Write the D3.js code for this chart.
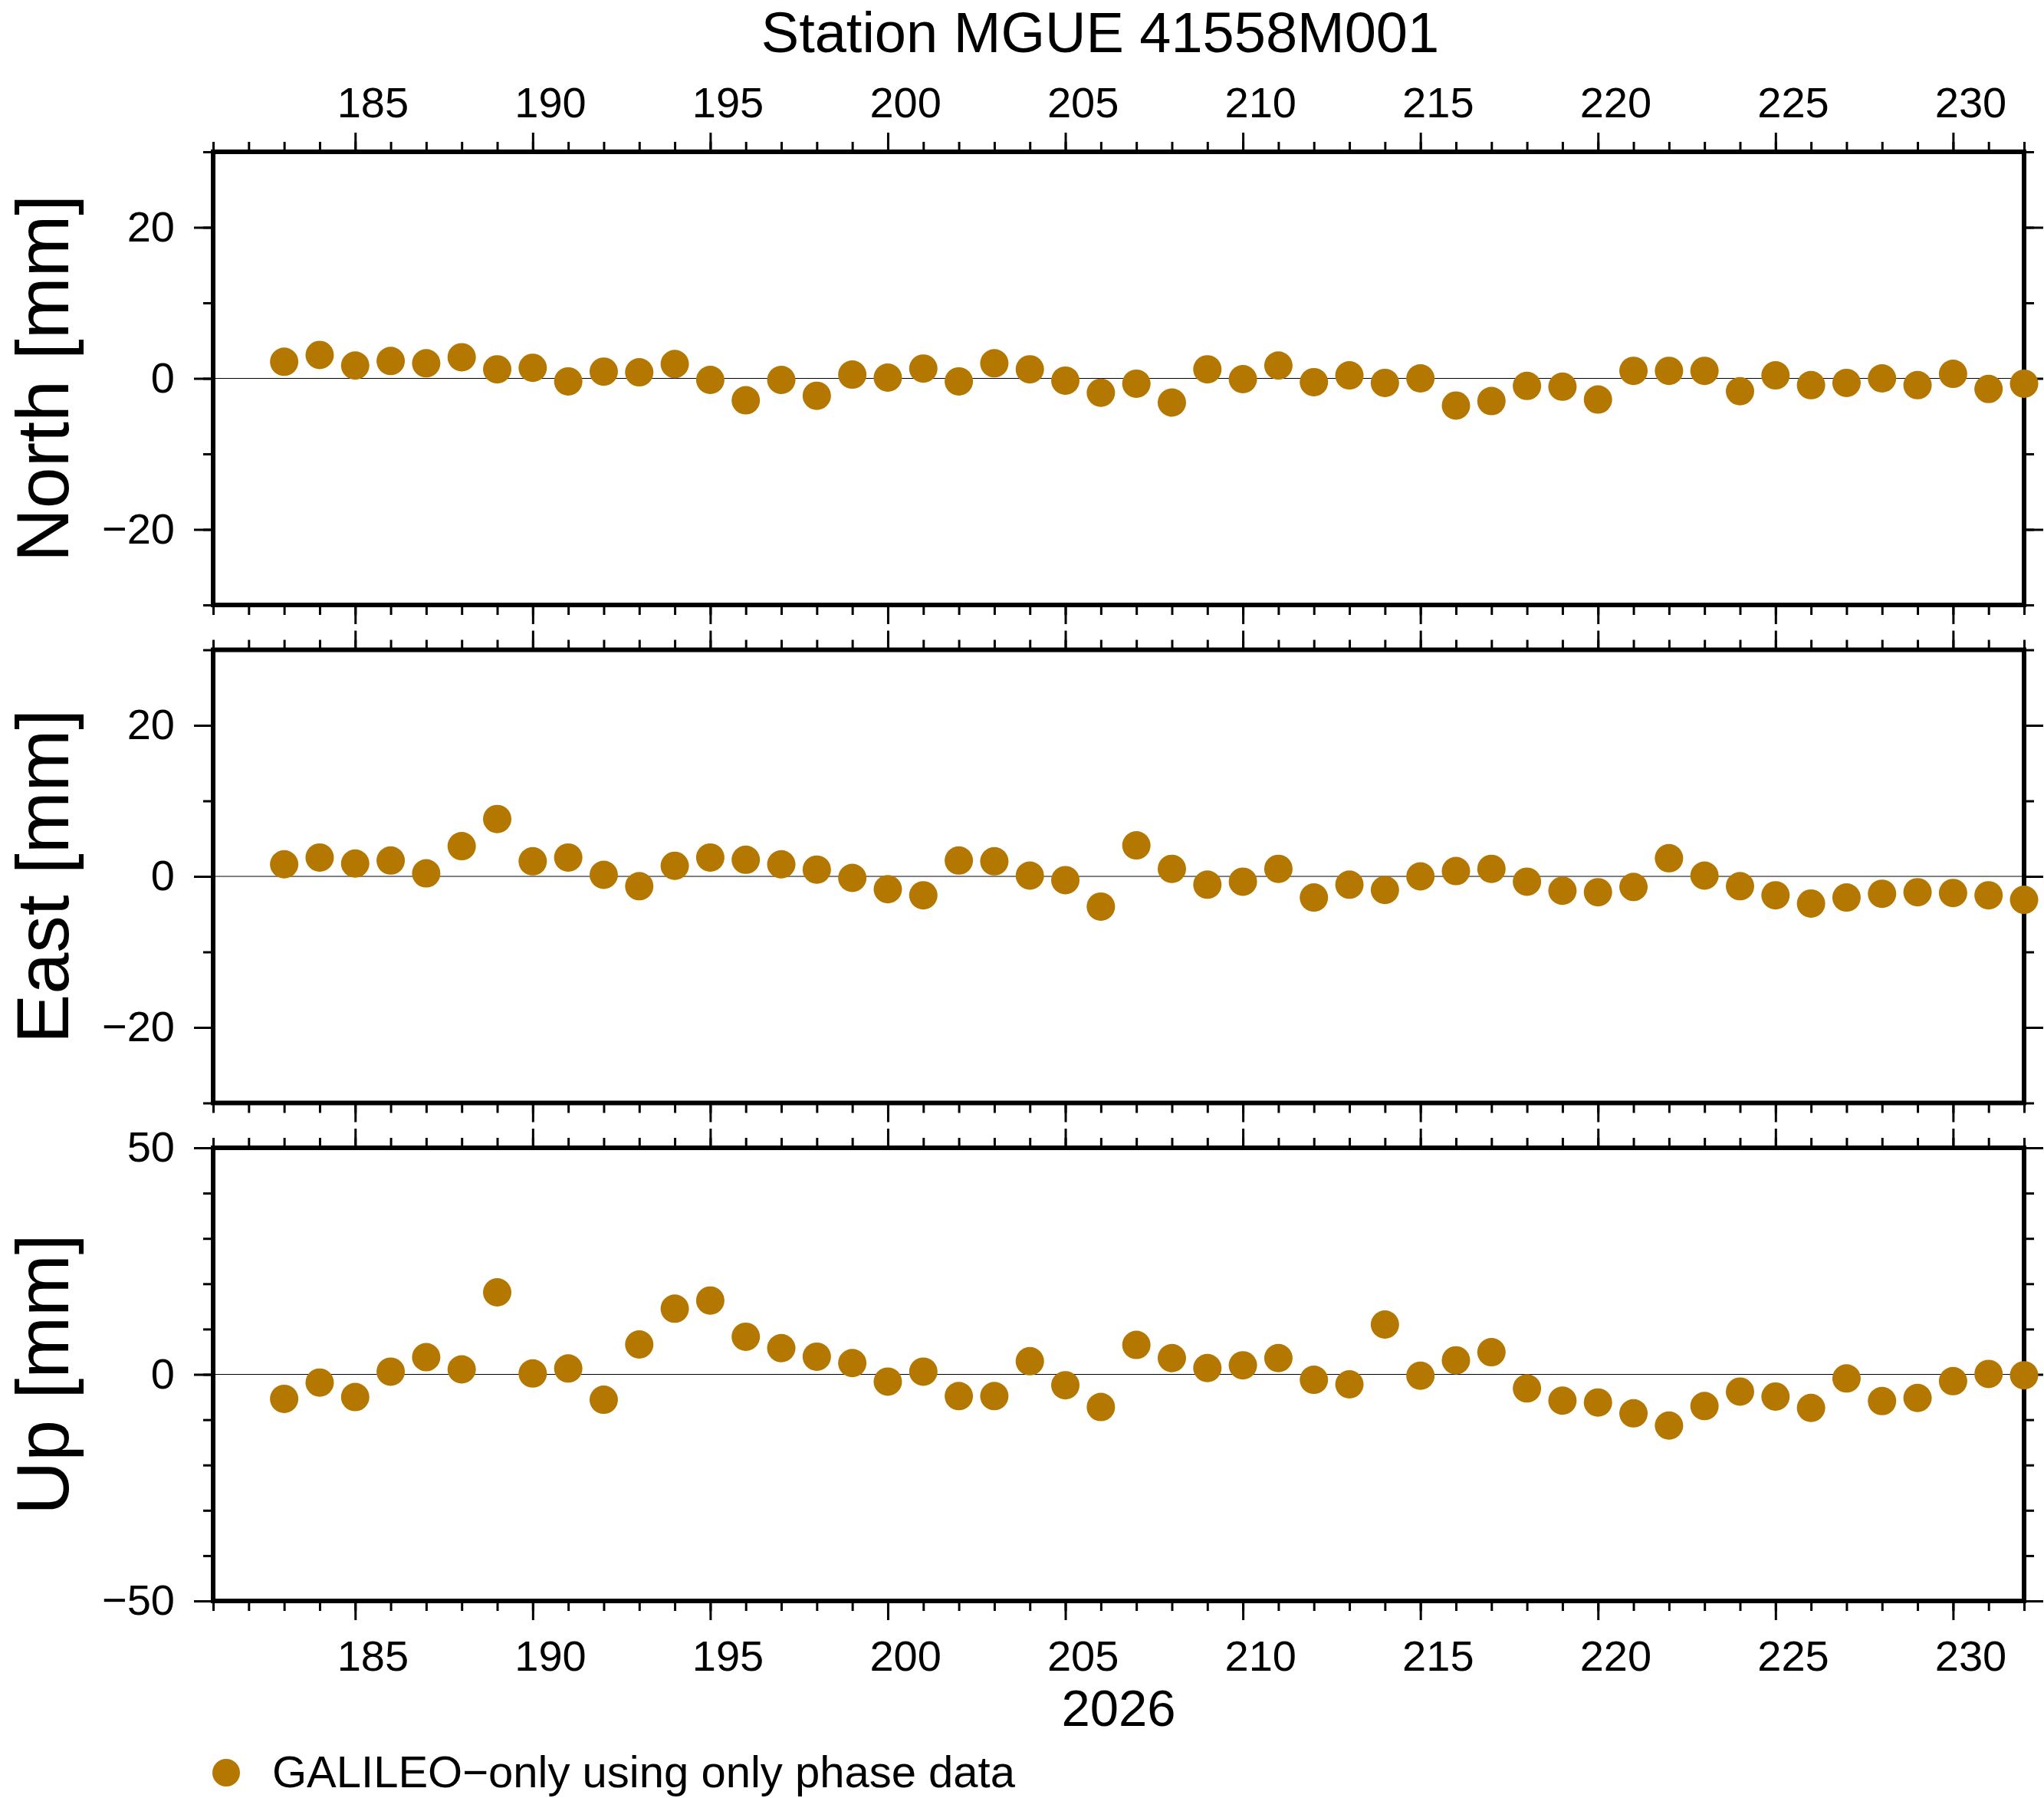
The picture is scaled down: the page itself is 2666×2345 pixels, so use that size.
<!DOCTYPE html>
<html lang="en">
<head>
    <meta charset="UTF-8">
    <title>Station MGUE 41558M001</title>
    <script src="https://d3js.org/d3.v7.min.js"></script>
    <style>
        body { margin: 0; background: #fff; }
        text { font-family: "Liberation Sans", Arial, Helvetica, sans-serif; fill: #000; }
    </style>
</head>
<body>
    <div id="chart"></div>
    <script>
        // Day of year 2026
        const days = [183, 184, 185, 186, 187, 188, 189, 190, 191, 192,
                      193, 194, 195, 196, 197, 198, 199, 200, 201, 202,
                      203, 204, 205, 206, 207, 208, 209, 210, 211, 212,
                      213, 214, 215, 216, 217, 218, 219, 220, 221, 222,
                      223, 224, 225, 226, 227, 228, 229, 230, 231, 232];

        // Residuals in mm
        const north = [2.2, 3.1, 1.7, 2.3, 2.0, 2.8, 1.2, 1.4, -0.4, 0.9,
                       0.8, 1.9, -0.2, -2.9, -0.2, -2.3, 0.5, 0.1, 1.3, -0.4,
                       2.0, 1.2, -0.3, -1.9, -0.7, -3.2, 1.2, -0.1, 1.7, -0.5,
                       0.4, -0.6, 0.0, -3.6, -3.0, -1.0, -1.1, -2.8, 1.0, 1.0,
                       1.0, -1.7, 0.4, -0.9, -0.6, 0.0, -0.9, 0.6, -1.4, -0.7];
        const east = [1.6, 2.5, 1.7, 2.1, 0.4, 4.0, 7.6, 2.0, 2.5, 0.2,
                      -1.3, 1.4, 2.5, 2.2, 1.6, 0.9, -0.2, -1.7, -2.5, 2.1,
                      2.0, 0.1, -0.5, -4.0, 4.1, 1.0, -1.1, -0.7, 1.0, -2.8,
                      -1.1, -1.8, 0.0, 0.7, 1.0, -0.7, -1.9, -2.1, -1.4, 2.4,
                      0.1, -1.3, -2.5, -3.6, -2.8, -2.3, -2.1, -2.2, -2.5, -3.1];
        const up = [-5.4, -1.8, -5.0, 0.6, 3.8, 1.1, 18.1, 0.2, 1.3, -5.6,
                    6.6, 14.5, 16.3, 8.3, 5.8, 3.9, 2.5, -1.6, 0.6, -4.8,
                    -4.8, 2.9, -2.4, -7.2, 6.5, 3.6, 1.4, 2.0, 3.6, -1.2,
                    -2.2, 11.0, -0.3, 3.1, 4.9, -3.1, -5.8, -6.2, -8.6, -11.3,
                    -7.0, -3.8, -4.9, -7.4, -0.9, -5.9, -5.2, -1.5, 0.1, -0.2];

        const dayLabels = [185, 190, 195, 200, 205, 210, 215, 220, 225, 230];
        const mmLabels = [-20, 0, 20];
        const upLabels = [-50, 0, 50];

        const width = 2666, height = 2345;
        const plotLeft = 278, plotRight = 2640, panelHeight = 591;
        const majorLen = 25, minorLen = 13;
        const dotColor = "#b47800";

        const svg = d3.select("#chart")
            .append("svg")
            .attr("width", width)
            .attr("height", height);

        const x = d3.scaleLinear()
            .domain([181, 232])
            .range([plotLeft, plotRight]);

        const panels = [
            { label: "North [mm]", values: north, top: 198, domain: [-30, 30], major: mmLabels, minorStep: 10 },
            { label: "East [mm]", values: east, top: 847.5, domain: [-30, 30], major: mmLabels, minorStep: 10 },
            { label: "Up [mm]", values: up, top: 1497, domain: [-50, 50], major: upLabels, minorStep: 10 }
        ];

        // axis without domain line, thicker ticks
        function addAxis(g, axis, transform) {
            g.append("g")
                .attr("transform", transform)
                .call(axis)
                .call(a => a.select(".domain").remove())
                .call(a => a.selectAll("line").attr("stroke", "#000").attr("stroke-width", 3))
                .call(a => a.selectAll("text").attr("font-size", 56));
        }

        const minorDays = d3.range(181, 233);
        const majorDays = d3.range(185, 231, 5);
        const fmt = d => d < 0 ? "\u2212" + Math.abs(d) : String(d);

        panels.forEach(p => {
            const y = d3.scaleLinear()
                .domain(p.domain)
                .range([p.top + panelHeight, p.top]);
            const bottom = p.top + panelHeight;
            const g = svg.append("g");

            const minorY = d3.range(p.domain[0], p.domain[1] + 1, p.minorStep);

            // x ticks top and bottom
            addAxis(g, d3.axisTop(x).tickValues(minorDays).tickSize(minorLen).tickFormat(""), `translate(0,${p.top})`);
            addAxis(g, d3.axisTop(x).tickValues(majorDays).tickSize(majorLen).tickFormat(""), `translate(0,${p.top})`);
            addAxis(g, d3.axisBottom(x).tickValues(minorDays).tickSize(minorLen).tickFormat(""), `translate(0,${bottom})`);
            addAxis(g, d3.axisBottom(x).tickValues(majorDays).tickSize(majorLen).tickFormat(""), `translate(0,${bottom})`);

            // y ticks left (labelled) and right
            addAxis(g, d3.axisLeft(y).tickValues(minorY).tickSize(minorLen).tickFormat(""), `translate(${plotLeft},0)`);
            addAxis(g, d3.axisLeft(y).tickValues(p.major).tickSize(majorLen).tickPadding(25).tickFormat(fmt), `translate(${plotLeft},0)`);
            addAxis(g, d3.axisRight(y).tickValues(minorY).tickSize(minorLen).tickFormat(""), `translate(${plotRight},0)`);
            addAxis(g, d3.axisRight(y).tickValues(p.major).tickSize(majorLen).tickFormat(""), `translate(${plotRight},0)`);

            // zero line
            g.append("line")
                .attr("x1", plotLeft).attr("x2", plotRight)
                .attr("y1", y(0)).attr("y2", y(0))
                .attr("stroke", "#000")
                .attr("stroke-width", 1);

            // frame
            g.append("rect")
                .attr("x", plotLeft)
                .attr("y", p.top)
                .attr("width", plotRight - plotLeft)
                .attr("height", panelHeight)
                .attr("fill", "none")
                .attr("stroke", "#000")
                .attr("stroke-width", 6);

            // points
            g.selectAll("circle")
                .data(days.map((d, i) => ({ day: d, value: p.values[i] })))
                .enter()
                .append("circle")
                .attr("cx", d => x(d.day))
                .attr("cy", d => y(d.value))
                .attr("r", 18.5)
                .attr("fill", dotColor);

            // y label
            svg.append("text")
                .attr("transform", `translate(89,${p.top + panelHeight / 2}) rotate(-90)`)
                .attr("text-anchor", "middle")
                .attr("font-size", 97)
                .text(p.label);
        });

        // day labels sit in the middle of each day
        svg.append("g").selectAll("text")
            .data(dayLabels)
            .enter()
            .append("text")
            .attr("x", d => x(d + 0.5))
            .attr("y", 153)
            .attr("text-anchor", "middle")
            .attr("font-size", 56)
            .text(d => d);

        svg.append("g").selectAll("text")
            .data(dayLabels)
            .enter()
            .append("text")
            .attr("x", d => x(d + 0.5))
            .attr("y", 2179)
            .attr("text-anchor", "middle")
            .attr("font-size", 56)
            .text(d => d);

        svg.append("text")
            .attr("x", (plotLeft + plotRight) / 2)
            .attr("y", 2251)
            .attr("text-anchor", "middle")
            .attr("font-size", 67)
            .text("2026");

        // title
        svg.append("text")
            .attr("x", 1435)
            .attr("y", 68)
            .attr("text-anchor", "middle")
            .attr("font-size", 74)
            .text("Station MGUE 41558M001");

        // legend
        svg.append("circle")
            .attr("cx", 295)
            .attr("cy", 2312)
            .attr("r", 18)
            .attr("fill", dotColor);

        svg.append("text")
            .attr("x", 355)
            .attr("y", 2331)
            .attr("font-size", 58)
            .text("GALILEO\u2212only using only phase data");
    </script>
</body>
</html>
